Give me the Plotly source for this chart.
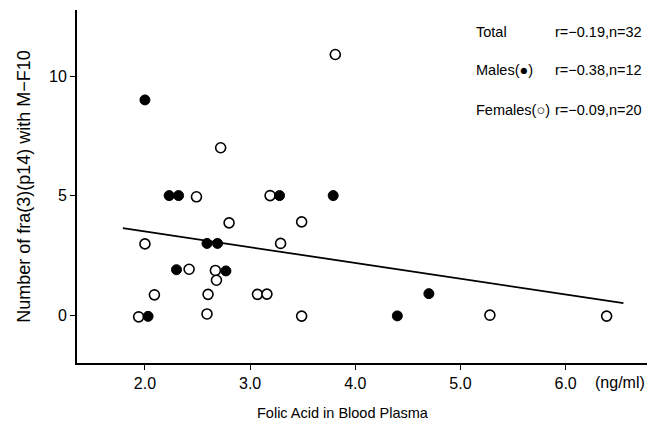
import plotly.graph_objects as go

# Males (filled circles)
male_x = [2.00, 2.23, 2.32, 3.28, 3.79, 2.59, 2.69, 2.30, 2.77, 2.03, 4.70, 4.40]
male_y = [9.0, 5.0, 5.0, 5.0, 5.0, 3.0, 3.0, 1.9, 1.85, -0.05, 0.9, -0.03]

# Females (open circles)
female_x = [3.81, 2.72, 2.49, 3.19, 2.80, 3.49, 2.00, 3.29, 2.42, 2.67, 2.68,
            2.09, 2.60, 3.07, 3.16, 1.94, 2.59, 3.49, 5.28, 6.39]
female_y = [10.9, 7.0, 4.95, 5.0, 3.86, 3.9, 2.98, 3.0, 1.92, 1.87, 1.46,
            0.85, 0.87, 0.87, 0.88, -0.07, 0.05, -0.04, 0.0, -0.04]

# Regression line (total)
reg_x = [1.79, 6.55]
reg_y = [3.64, 0.50]

x_ticks = [2.0, 3.0, 4.0, 5.0, 6.0]
x_tick_labels = ["2.0", "3.0", "4.0", "5.0", "6.0"]
y_ticks = [0, 5, 10]
y_tick_labels = ["0", "5", "10"]

stats_labels = ["Total", "Males(●)", "Females(○)"]
stats_values = ["r=−0.19,n=32", "r=−0.38,n=12", "r=−0.09,n=20"]

FONT = "Liberation Sans, Arial, Helvetica, sans-serif"

fig = go.Figure()
fig.add_trace(go.Scatter(x=reg_x, y=reg_y, mode="lines",
                         line=dict(color="black", width=1.8), showlegend=False,
                         hoverinfo="skip"))
fig.add_trace(go.Scatter(x=female_x, y=female_y, mode="markers",
                         marker=dict(symbol="circle", size=10, color="white",
                                     line=dict(color="black", width=1.6)),
                         showlegend=False))
fig.add_trace(go.Scatter(x=male_x, y=male_y, mode="markers",
                         marker=dict(symbol="circle", size=10, color="black",
                                     line=dict(color="black", width=1)),
                         showlegend=False))

annotations = []
ys = [11.84, 10.25, 8.58]
for lab, val, yy in zip(stats_labels, stats_values, ys):
    annotations.append(dict(x=5.13, y=yy, xref="x", yref="y", text=lab,
                            showarrow=False, xanchor="left", yanchor="middle",
                            font=dict(family=FONT, size=14.5, color="black")))
    annotations.append(dict(x=5.884, y=yy, xref="x", yref="y", text=val,
                            showarrow=False, xanchor="left", yanchor="middle",
                            font=dict(family=FONT, size=14.5, color="black")))
annotations.append(dict(x=6.52, y=0, xref="x", yref="paper", yshift=-19,
                        text="(ng/ml)", showarrow=False, xanchor="center",
                        yanchor="middle",
                        font=dict(family=FONT, size=16, color="black")))
# x-axis title (placed left of centre, as in the original)
annotations.append(dict(x=3.88, y=0, xref="x", yref="paper", yshift=-50,
                        text="Folic Acid in Blood Plasma", showarrow=False,
                        xanchor="center", yanchor="middle",
                        font=dict(family=FONT, size=14.5, color="black")))

# The page body has an 8px default margin; size the figure to fit the window.
fig.update_layout(
    width=647, height=418,
    margin=dict(l=69, r=0, t=2, b=63),
    paper_bgcolor="white", plot_bgcolor="white",
    font=dict(family=FONT, size=16, color="black"),
    annotations=annotations,
    xaxis=dict(range=[1.354, 6.85], tickvals=x_ticks, ticktext=x_tick_labels,
               showgrid=False, zeroline=False, showline=True, automargin=False,
               linecolor="black", linewidth=2, ticks="outside", ticklen=5,
               tickcolor="black", tickwidth=1),
    yaxis=dict(range=[-2.0, 12.76], tickvals=y_ticks, ticktext=y_tick_labels,
               showgrid=False, zeroline=False, showline=True, automargin=False,
               linecolor="black", linewidth=2, ticks="outside", ticklen=5,
               tickcolor="black", tickwidth=1,
               title=dict(text="Number of fra(3)(p14) with M−F10", standoff=14,
                          font=dict(size=18))),
)

fig.write_html("out.html")
